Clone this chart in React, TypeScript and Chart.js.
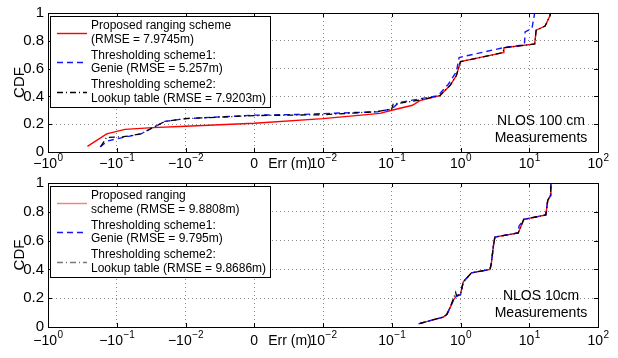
import React, { useEffect, useRef } from "react";
import { Chart, registerables } from "chart.js";
Chart.register(...registerables);

// ---------- data ----------
const xTickValues = [0, 1, 2, 3, 4, 5, 6, 7, 8];
const xTickBases = ["−10", "−10", "−10", "0", "10", "10", "10", "10", "10"];
const xTickExps = ["0", "−1", "−2", "", "−2", "−1", "0", "1", "2"];

// top panel: NLOS 100 cm
const errRedTop = [-0.267, -0.14, -0.0759, -0.03, -0.01, 0, 0.01, 0.0676, 0.1, 0.2, 0.257, 0.501, 0.708, 0.871, 1.0, 4.17, 4.27, 12.0, 12.6, 17.0, 20.0, 20.4];
const cdfRedTop = [0.04, 0.13, 0.163, 0.175, 0.185, 0.207, 0.24, 0.278, 0.3, 0.336, 0.37, 0.405, 0.48, 0.55, 0.65, 0.715, 0.75, 0.777, 0.876, 0.906, 0.98, 1.0];

const errBlueTop = [-0.175, -0.135, -0.1, -0.0447, -0.02, -0.01, 0, 0.0067, 0.063, 0.1, 0.126, 0.24, 0.468, 0.661, 0.871, 0.955, 4.17, 8.51, 8.71, 10.96, 12.0];
const cdfBlueTop = [0.037, 0.08, 0.095, 0.13, 0.22, 0.24, 0.265, 0.27, 0.29, 0.31, 0.355, 0.38, 0.405, 0.486, 0.577, 0.68, 0.75, 0.772, 0.864, 0.89, 1.0];

const errBlackTop = [-0.17, -0.141, -0.0794, -0.0447, -0.02, -0.01, 0, 0.01, 0.0603, 0.1, 0.105, 0.2, 0.257, 0.501, 0.708, 0.871, 1.0, 4.17, 4.27, 12.0, 12.6, 17.0, 20.0, 20.4];
const cdfBlackTop = [0.04, 0.105, 0.11, 0.13, 0.22, 0.24, 0.262, 0.268, 0.29, 0.31, 0.345, 0.365, 0.375, 0.405, 0.48, 0.55, 0.65, 0.715, 0.75, 0.777, 0.876, 0.906, 0.98, 1.0];

// bottom panel: NLOS 10cm
const errRedBot = [0.257, 0.562, 0.631, 0.708, 0.794, 0.871, 1.0, 1.096, 1.445, 2.69, 2.82, 3.02, 3.16, 6.92, 8.32, 17.4, 18.6, 20.4, 20.65];
const cdfRedBot = [0.025, 0.069, 0.087, 0.136, 0.19, 0.213, 0.225, 0.313, 0.376, 0.4, 0.447, 0.569, 0.624, 0.654, 0.747, 0.778, 0.88, 0.913, 1.0];

const errBlueBot = [0.245, 0.562, 0.631, 0.708, 0.794, 0.871, 1.0, 1.096, 1.445, 2.69, 2.82, 3.02, 3.16, 6.92, 7.08, 8.32, 17.4, 18.6, 20.4, 20.65];
const cdfBlueBot = [0.022, 0.069, 0.087, 0.136, 0.19, 0.213, 0.225, 0.313, 0.376, 0.4, 0.447, 0.569, 0.624, 0.654, 0.7, 0.747, 0.778, 0.88, 0.913, 1.0];

const errBlackBot = [0.257, 0.562, 0.631, 0.708, 0.851, 0.871, 1.0, 1.096, 1.445, 2.69, 2.82, 3.02, 3.16, 6.92, 8.32, 17.4, 18.6, 20.4, 20.65];
const cdfBlackBot = [0.025, 0.069, 0.087, 0.136, 0.24, 0.22, 0.225, 0.313, 0.376, 0.4, 0.447, 0.569, 0.624, 0.654, 0.747, 0.778, 0.88, 0.913, 1.0];

const seriesNames = ["Proposed ranging scheme", "Thresholding scheme1: Genie", "Thresholding scheme2: Lookup table"];
const legendTop = [
  ["Proposed ranging scheme", "(RMSE = 7.9745m)"],
  ["Thresholding scheme1:", "Genie (RMSE = 5.257m)"],
  ["Thresholding scheme2:", "Lookup table (RMSE = 7.9203m)"],
];
const legendBottom = [
  ["Proposed ranging", "scheme (RMSE = 9.8808m)"],
  ["Thresholding scheme1:", "Genie (RMSE = 9.795m)"],
  ["Thresholding scheme2:", "Lookup table (RMSE = 9.8686m)"],
];
const noteTop = ["NLOS 100 cm", "Measurements"];
const noteBottom = ["NLOS 10cm", "Measurements"];
const xTitle = "Err (m)";
const yTitle = "CDF";

// ---------- helpers ----------
const FONT = '"Liberation Sans", Arial, Helvetica, sans-serif';

// symmetric log mapping: -1 -> 0, -0.1 -> 1, -0.01 -> 2, 0 -> 3, 0.01 -> 4, 0.1 -> 5, 1 -> 6, 10 -> 7, 100 -> 8
function toAxis(err: number): number {
  if (err <= -0.01) return -Math.log10(-err);
  if (err >= 0.01) return Math.log10(err) + 6;
  return err / 0.01 + 3;
}
function pts(errs: number[], cdfs: number[]) {
  return errs.map((e, i) => ({ x: toAxis(e), y: cdfs[i] }));
}

const styles = [
  { color: "#ff0000", dash: [] as number[], width: 1.4 },
  { color: "#1515ff", dash: [6, 4], width: 1.4 },
  { color: "#000000", dash: [6, 3, 1, 3], width: 1.3 },
];

function makeChart(
  canvas: HTMLCanvasElement,
  data: { x: number; y: number }[][],
  legend: string[][],
  legendColors: string[],
  note: string[],
  xScaleHeight: number,
  topPad: number,
  labelOffset: number
) {
  const decor = {
    id: "decor",
    afterDraw(chart: any) {
      const ctx = chart.ctx as CanvasRenderingContext2D;
      const ca = chart.chartArea;
      const xs = chart.scales.x;
      const ys = chart.scales.y;
      ctx.save();
      // inner tick marks
      ctx.strokeStyle = "#000";
      ctx.lineWidth = 1;
      ctx.beginPath();
      for (let v = 1; v < 8; v++) {
        const px = Math.round(xs.getPixelForValue(v)) + 0.5;
        ctx.moveTo(px, ca.bottom);
        ctx.lineTo(px, ca.bottom - 4);
        ctx.moveTo(px, ca.top);
        ctx.lineTo(px, ca.top + 4);
      }
      for (let v = 0.2; v < 0.99; v += 0.2) {
        const py = Math.round(ys.getPixelForValue(v)) + 0.5;
        ctx.moveTo(ca.left, py);
        ctx.lineTo(ca.left + 4, py);
        ctx.moveTo(ca.right, py);
        ctx.lineTo(ca.right - 4, py);
      }
      ctx.stroke();
      // box
      ctx.strokeRect(Math.round(ca.left) + 0.5, Math.round(ca.top) + 0.5, Math.round(ca.right - ca.left), Math.round(ca.bottom - ca.top));

      // x tick labels (base + superscript exponent)
      ctx.fillStyle = "#000";
      ctx.textBaseline = "alphabetic";
      ctx.textAlign = "left";
      const baseY = ca.bottom + labelOffset;
      xTickValues.forEach((v, i) => {
        ctx.font = "14px " + FONT;
        const wb = ctx.measureText(xTickBases[i]).width;
        ctx.font = "10px " + FONT;
        const we = xTickExps[i] ? ctx.measureText(xTickExps[i]).width : 0;
        const px = xs.getPixelForValue(v);
        const x0 = px - (wb + we) / 2;
        ctx.font = "14px " + FONT;
        ctx.fillText(xTickBases[i], x0, baseY);
        if (xTickExps[i]) {
          ctx.font = "10px " + FONT;
          ctx.fillText(xTickExps[i], x0 + wb + 0.5, baseY - 7);
        }
      });

      // note text
      ctx.font = "14px " + FONT;
      ctx.textAlign = "center";
      ctx.textBaseline = "middle";
      ctx.fillText(note[0], ca.right - 57, ca.bottom - 31);
      ctx.fillText(note[1], ca.right - 57, ca.bottom - 14);

      // x title, on tick label row
      ctx.textBaseline = "alphabetic";
      ctx.fillText(xTitle, ca.left + 242, baseY);

      // y title
      ctx.save();
      ctx.font = "15px " + FONT;
      ctx.textBaseline = "middle";
      ctx.translate(20, (ca.top + ca.bottom) / 2);
      ctx.rotate(-Math.PI / 2);
      ctx.fillText(yTitle, 0, 0);
      ctx.restore();

      // legend
      const bx = Math.round(ca.left) + 2;
      const by = Math.round(ca.top) + 3;
      const bw = 220;
      const bh = 91;
      ctx.fillStyle = "#fff";
      ctx.fillRect(bx, by, bw, bh);
      ctx.strokeStyle = "#000";
      ctx.lineWidth = 1;
      ctx.strokeRect(bx + 0.5, by + 0.5, bw, bh);
      ctx.font = "12px " + FONT;
      ctx.textAlign = "left";
      ctx.textBaseline = "middle";
      ctx.fillStyle = "#000";
      for (let i = 0; i < 3; i++) {
        const gy = by + 10 + i * 29.5;
        ctx.fillText(legend[i][0], bx + 41, gy);
        ctx.fillText(legend[i][1], bx + 41, gy + 13.5);
        const st = styles[i];
        ctx.strokeStyle = legendColors[i];
        ctx.lineWidth = st.width;
        ctx.setLineDash(st.dash);
        ctx.beginPath();
        ctx.moveTo(bx + 7, Math.round(gy + 6.7) + 0.5);
        ctx.lineTo(bx + 37, Math.round(gy + 6.7) + 0.5);
        ctx.stroke();
        ctx.setLineDash([]);
      }
      ctx.restore();
    },
  };

  return new Chart(canvas, {
    type: "line",
    data: {
      datasets: data.map((d, i) => ({
        label: seriesNames[i],
        data: d,
        borderColor: styles[i].color,
        borderWidth: styles[i].width,
        borderDash: styles[i].dash,
        pointRadius: 0,
        fill: false,
        tension: 0,
        order: 3 - i,
      })),
    },
    options: {
      responsive: false,
      animation: false,
      devicePixelRatio: 1,
      layout: { padding: { left: 0, right: 20, top: topPad, bottom: 0 } },
      plugins: { legend: { display: false }, tooltip: { enabled: false } },
      scales: {
        x: {
          type: "linear",
          min: 0,
          max: 8,
          afterFit: (s: any) => {
            s.height = xScaleHeight;
          },
          afterBuildTicks: (s: any) => {
            s.ticks = xTickValues.map((v) => ({ value: v }));
          },
          ticks: { display: false, autoSkip: false, maxRotation: 0 },
          grid: { color: "#8a8a8a", drawTicks: false, lineWidth: 1 },
          border: { display: false, dash: [1, 3] },
        },
        y: {
          type: "linear",
          min: 0,
          max: 1,
          afterFit: (s: any) => {
            s.width = 48;
          },
          ticks: {
            stepSize: 0.2,
            padding: 4,
            color: "#000",
            font: { family: FONT, size: 15 },
            callback: (v: any) => String(Number(Number(v).toFixed(1))),
          },
          grid: { color: "#8a8a8a", drawTicks: false, lineWidth: 1 },
          border: { display: false, dash: [1, 3] },
        },
      },
    },
    plugins: [decor],
  } as any);
}

export default function App() {
  const topRef = useRef<HTMLCanvasElement>(null);
  const botRef = useRef<HTMLCanvasElement>(null);

  useEffect(() => {
    const c1 = makeChart(
      topRef.current!,
      [pts(errRedTop, cdfRedTop), pts(errBlueTop, cdfBlueTop), pts(errBlackTop, cdfBlackTop)],
      legendTop,
      ["#ff0000", "#1515ff", "#000000"],
      noteTop,
      18,
      7,
      16
    );
    const c2 = makeChart(
      botRef.current!,
      [pts(errRedBot, cdfRedBot), pts(errBlueBot, cdfBlueBot), pts(errBlackBot, cdfBlackBot)],
      legendBottom,
      ["#ff7a7a", "#1515ff", "#777777"],
      noteBottom,
      31,
      6,
      18
    );
    return () => {
      c1.destroy();
      c2.destroy();
    };
  }, []);

  return (
    <div style={{ position: "absolute", left: 0, top: 0, width: 618, height: 358, background: "#fff" }}>
      <canvas ref={topRef} width={618} height={170} style={{ position: "absolute", left: 0, top: 0, width: 618, height: 170 }} />
      <canvas ref={botRef} width={618} height={188} style={{ position: "absolute", left: 0, top: 170, width: 618, height: 188 }} />
    </div>
  );
}
